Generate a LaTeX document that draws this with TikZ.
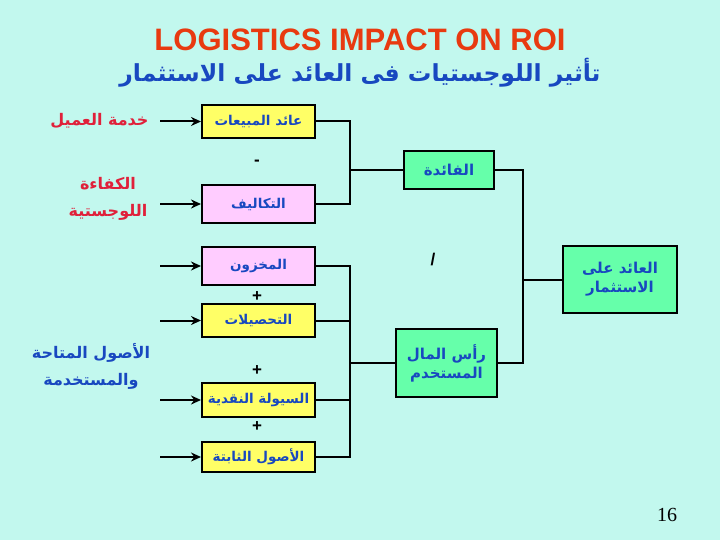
\documentclass[tikz,border=0pt]{standalone}
\usepackage{fontspec}
\usepackage{xcolor}
\usepackage{tikz}
\usetikzlibrary{arrows.meta}
\setmainfont{Liberation Sans}
\newfontfamily\arabicfont[Script=Arabic]{DejaVu Sans}
\newfontfamily\pagefont{Liberation Serif}
\TeXXeTstate=1
\definecolor{bgcyan}{HTML}{C2F8EE}
\definecolor{boxyellow}{HTML}{FFFF66}
\definecolor{boxpink}{HTML}{FFCCFF}
\definecolor{boxgreen}{HTML}{66FFAA}
\definecolor{txtblue}{HTML}{1848C0}
\definecolor{txtred}{HTML}{E0203A}
\definecolor{titlered}{HTML}{E83A10}
\newcommand{\ar}[1]{\arabicfont\bfseries\beginR #1\endR}

\begin{document}
\begin{tikzpicture}[x=1pt,y=-1pt,
            box/.style={draw, line width=2pt, inner sep=0pt, text=txtblue,
                        font=\fontsize{15}{19}\selectfont, align=center},
            leftbox/.style={box, minimum width=113pt, font=\fontsize{13.5}{16}\selectfont},
            label/.style={font=\fontsize{16}{27}\selectfont, align=center},
            op/.style={font=\fontsize{17}{17}\selectfont\bfseries},
            arr/.style={line width=2pt, -{Stealth[length=10pt,width=9pt]}},
            wire/.style={line width=2pt}]
        \fill[bgcyan] (0,0) rectangle (720,540);

        % title
        \node[font=\fontsize{31}{34}\selectfont\bfseries, text=titlered] (title) at (360,40) {LOGISTICS IMPACT ON ROI};
        \node[font=\fontsize{23.5}{27}\selectfont, text=txtblue] (subtitle) at (360,73) {\ar{تأثير اللوجستيات فى العائد على الاستثمار}};

        % boxes on the left
        \node[leftbox, fill=boxyellow, minimum height=33pt] (sales) at (258.5,121.5) {\ar{عائد المبيعات}};
        \node[leftbox, fill=boxpink, minimum height=38pt] (costs) at (258.5,204) {\ar{التكاليف}};
        \node[leftbox, fill=boxpink, minimum height=38pt] (stock) at (258.5,266) {\ar{المخزون}};
        \node[leftbox, fill=boxyellow, minimum height=33pt] (receiv) at (258.5,320.5) {\ar{التحصيلات}};
        \node[leftbox, fill=boxyellow, minimum height=34pt] (cash) at (258.5,400) {\ar{السيولة النقدية}};
        \node[leftbox, fill=boxyellow, minimum height=30pt] (fixed) at (258.5,457) {\ar{الأصول الثابتة}};

        % operators
        \node[op] (minus) at (257,163) {-};
        \node[op] (plusA) at (257,297) {+};
        \node[op] (plusB) at (257,371) {+};
        \node[op] (plusC) at (257,427) {+};
        \node[op] (divide) at (433,260) {/};

        % middle and right boxes
        \node[box, fill=boxgreen, minimum width=90pt, minimum height=38pt] (profit) at (449,170) {\ar{الفائدة}};
        \node[box, fill=boxgreen, minimum width=101pt, minimum height=68pt] (capital) at (446.5,363) {\ar{رأس المال}\\\ar{المستخدم}};
        \node[box, fill=boxgreen, minimum width=114pt, minimum height=67pt] (roi) at (620,279.5) {\ar{العائد على}\\\ar{الاستثمار}};

        % labels on the left
        \node[label, text=txtred, anchor=east] (service) at (152,121) {\ar{خدمة العميل}};
        \node[label, text=txtred] (efficiency) at (108,199) {\ar{الكفاءة}\\\ar{اللوجستية}};
        \node[label, text=txtblue] (assets) at (91,366) {\ar{الأصول المتاحة}\\\ar{والمستخدمة}};

        % input arrows
        \foreach \b in {sales,costs,stock,receiv,cash,fixed}
            \draw[arr] (\b.west) ++(-41,0) coordinate (in-\b) -- (\b.west);

        % joins
        \coordinate (busA) at (350,170);
        \coordinate (busB) at (350,363);
        \coordinate (busC) at (523,279.5);
        \draw[wire] (sales.east) -| (busA) |- (costs.east);
        \draw[wire] (busA) -- (profit.west);
        \draw[wire] (stock.east) -| (busB) |- (fixed.east);
        \draw[wire] (receiv.east) -- (receiv.east -| busB);
        \draw[wire] (cash.east) -- (cash.east -| busB);
        \draw[wire] (busB) -- (capital.west);
        \draw[wire] (profit.east) -| (busC) |- (capital.east);
        \draw[wire] (busC) -- (roi.west);

        \node[font=\fontsize{20}{20}\selectfont\pagefont] (page) at (667,515) {16};
    \end{tikzpicture}
\end{document}
